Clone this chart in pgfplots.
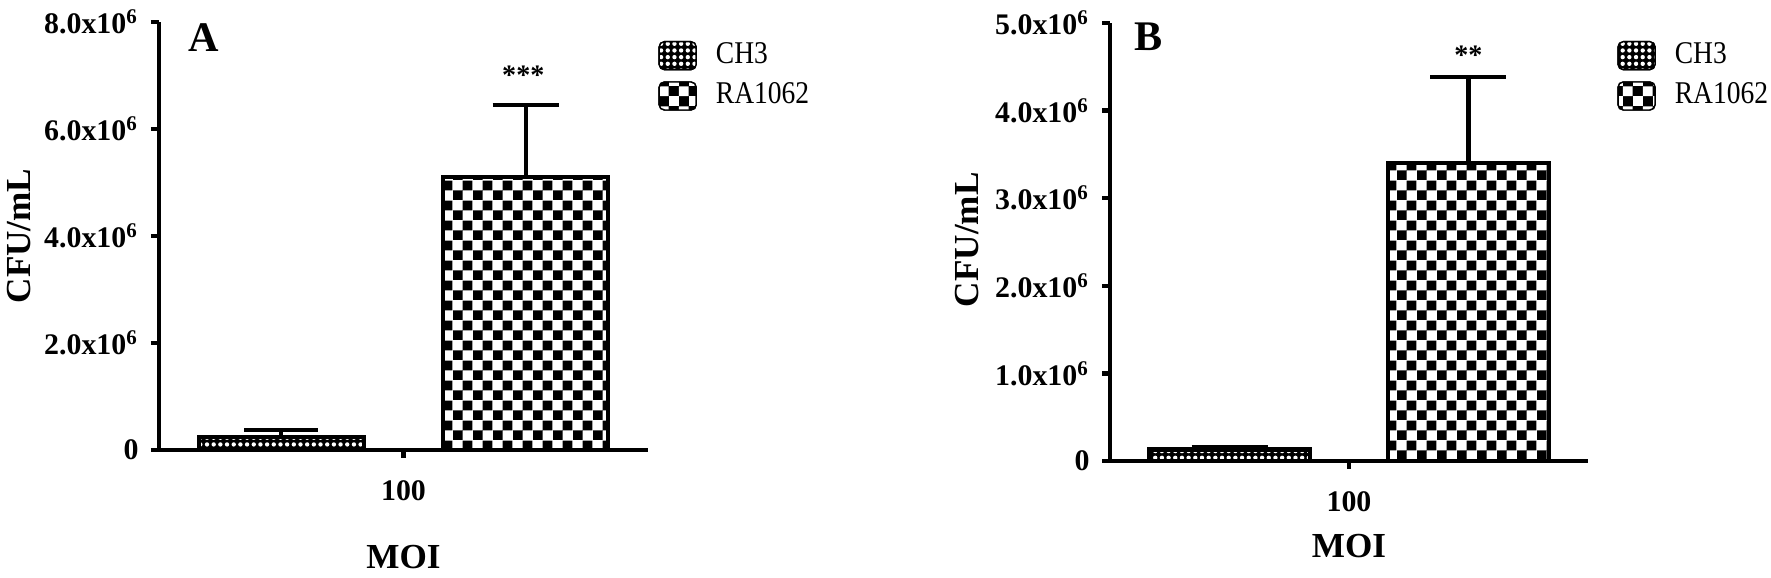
\documentclass[border=0pt]{standalone}
\usepackage{fontspec}
\setmainfont{Liberation Serif}
\usepackage{graphicx}
\usepackage{pgfplots}
\pgfplotsset{compat=1.18}
\usetikzlibrary{patterns}

% black/white checkerboard, squares of about 2.8pt
\pgfdeclarepatternformonly{bigcheck}{\pgfpointorigin}{\pgfqpoint{5.6pt}{5.6pt}}{\pgfqpoint{5.6pt}{5.6pt}}{%
  \pgfpathrectangle{\pgfpointorigin}{\pgfqpoint{2.8pt}{2.8pt}}%
  \pgfpathrectangle{\pgfqpoint{2.8pt}{2.8pt}}{\pgfqpoint{2.8pt}{2.8pt}}%
  \pgfusepath{fill}}
% small dots
\pgfdeclarepatternformonly{smalldots}{\pgfqpoint{-1pt}{-1pt}}{\pgfqpoint{1pt}{1pt}}{\pgfqpoint{1.9pt}{1.9pt}}{%
  \pgfpathcircle{\pgfpointorigin}{0.62pt}%
  \pgfusepath{fill}}

% legend text is set a little narrower, as in the original
\newcommand{\lt}[1]{\scalebox{0.87}[1]{#1}}

\pgfplotsset{
  prism/.style={
    scale only axis,
    axis x line=bottom, axis y line=left,
    axis line style={-, line width=1.2pt},
    tick style={line width=1.2pt, black},
    tick align=outside,
    major tick length=0.08cm,
    xmin=-1, xmax=1, ymin=0,
    xtick={0}, xticklabels={100},
    xticklabel style={yshift=-0.1cm},
    scaled y ticks=false,
    clip=false,
    tick label style={font=\bfseries\fontsize{8.5}{9}\selectfont},
    label style={font=\bfseries\fontsize{10}{11}\selectfont},
    ylabel={CFU/mL},
    xlabel={MOI},
    legend style={draw=none, fill=none, font=\fontsize{9}{10}\selectfont,
      anchor=north west, row sep=0pt, inner sep=0pt,
      /tikz/every odd column/.append style={column sep=0.12cm}},
    legend cell align=left,
  },
  chbar/.style={ybar, bar width=0.675, bar shift=0pt, draw=black, line width=1.2pt,
    preaction={fill=black}, preaction={pattern=smalldots, pattern color=white}},
  rabar/.style={ybar, bar width=0.675, bar shift=0pt, draw=black, line width=1.2pt,
    preaction={fill=white}, preaction={pattern=bigcheck, pattern color=black}},
}

\newcommand{\chleg}{\addlegendimage{legend image code/.code={%
  \draw[fill=black, rounded corners=1.5pt, postaction={pattern=smalldots, pattern color=white}]
    (0cm,-0.14cm) rectangle (0.37cm,0.14cm);}}}
\newcommand{\raleg}{\addlegendimage{legend image code/.code={%
  \draw[fill=black, rounded corners=1.5pt, postaction={pattern=bigcheck, pattern color=white}]
    (0cm,-0.14cm) rectangle (0.37cm,0.14cm);}}}

\begin{document}
\begin{tikzpicture}
\path[use as bounding box] (0,0) rectangle (17.71cm,5.78cm);

% panel A
\begin{axis}[prism, at={(1.59cm,1.28cm)}, anchor=south west,
  width=4.89cm, height=4.28cm, ymax=8e6,
  ytick={0,2e6,4e6,6e6,8e6},
  yticklabels={0,2.0x10\textsuperscript{6},4.0x10\textsuperscript{6},6.0x10\textsuperscript{6},8.0x10\textsuperscript{6}},
  ylabel style={at={(axis description cs:-0.286,0.5)}, anchor=center},
  xlabel style={at={(axis description cs:0.5,-0.25)}, anchor=center},
  legend style={at={(axis description cs:1.02,0.970)}},
]
\chleg \addlegendentry{\lt{CH3}}
\raleg \addlegendentry{\lt{RA1062}}
\addplot[chbar, forget plot, error bars/.cd, y dir=plus, y explicit,
  error bar style={line width=1.2pt, black},
  error mark options={rotate=90, line width=1.2pt, mark size=0.37cm, black}]
  coordinates {(-0.5,0.25e6) +- (0,0.12e6)};
\addplot[rabar, forget plot, error bars/.cd, y dir=plus, y explicit,
  error bar style={line width=1.2pt, black},
  error mark options={rotate=90, line width=1.2pt, mark size=0.33cm, black}]
  coordinates {(0.5,5.1e6) +- (0,1.35e6)};
\node[font=\bfseries\fontsize{8}{9}\selectfont] at (axis cs:0.49,7.0e6) {***};
\node[font=\bfseries\fontsize{12}{13}\selectfont] at (axis description cs:0.092,0.963) {A};
\end{axis}

% panel B
\begin{axis}[prism, at={(11.10cm,1.17cm)}, anchor=south west,
  width=4.78cm, height=4.38cm, ymax=5e6,
  ytick={0,1e6,2e6,3e6,4e6,5e6},
  yticklabels={0,1.0x10\textsuperscript{6},2.0x10\textsuperscript{6},3.0x10\textsuperscript{6},4.0x10\textsuperscript{6},5.0x10\textsuperscript{6}},
  ylabel style={at={(axis description cs:-0.30,0.505)}, anchor=center},
  xlabel style={at={(axis description cs:0.5,-0.195)}, anchor=center},
  legend style={at={(axis description cs:1.06,0.973)}},
]
\chleg \addlegendentry{\lt{CH3}}
\raleg \addlegendentry{\lt{RA1062}}
\addplot[chbar, forget plot, error bars/.cd, y dir=plus, y explicit,
  error bar style={line width=1.2pt, black},
  error mark options={rotate=90, line width=1.2pt, mark size=0.38cm, black}]
  coordinates {(-0.5,0.13e6) +- (0,0.03e6)};
\addplot[rabar, forget plot, error bars/.cd, y dir=plus, y explicit,
  error bar style={line width=1.2pt, black},
  error mark options={rotate=90, line width=1.2pt, mark size=0.38cm, black}]
  coordinates {(0.5,3.4e6) +- (0,0.98e6)};
\node[font=\bfseries\fontsize{8}{9}\selectfont] at (axis cs:0.5,4.63e6) {**};
\node[font=\bfseries\fontsize{12}{13}\selectfont] at (axis description cs:0.08,0.968) {B};
\end{axis}
\end{tikzpicture}
\end{document}
